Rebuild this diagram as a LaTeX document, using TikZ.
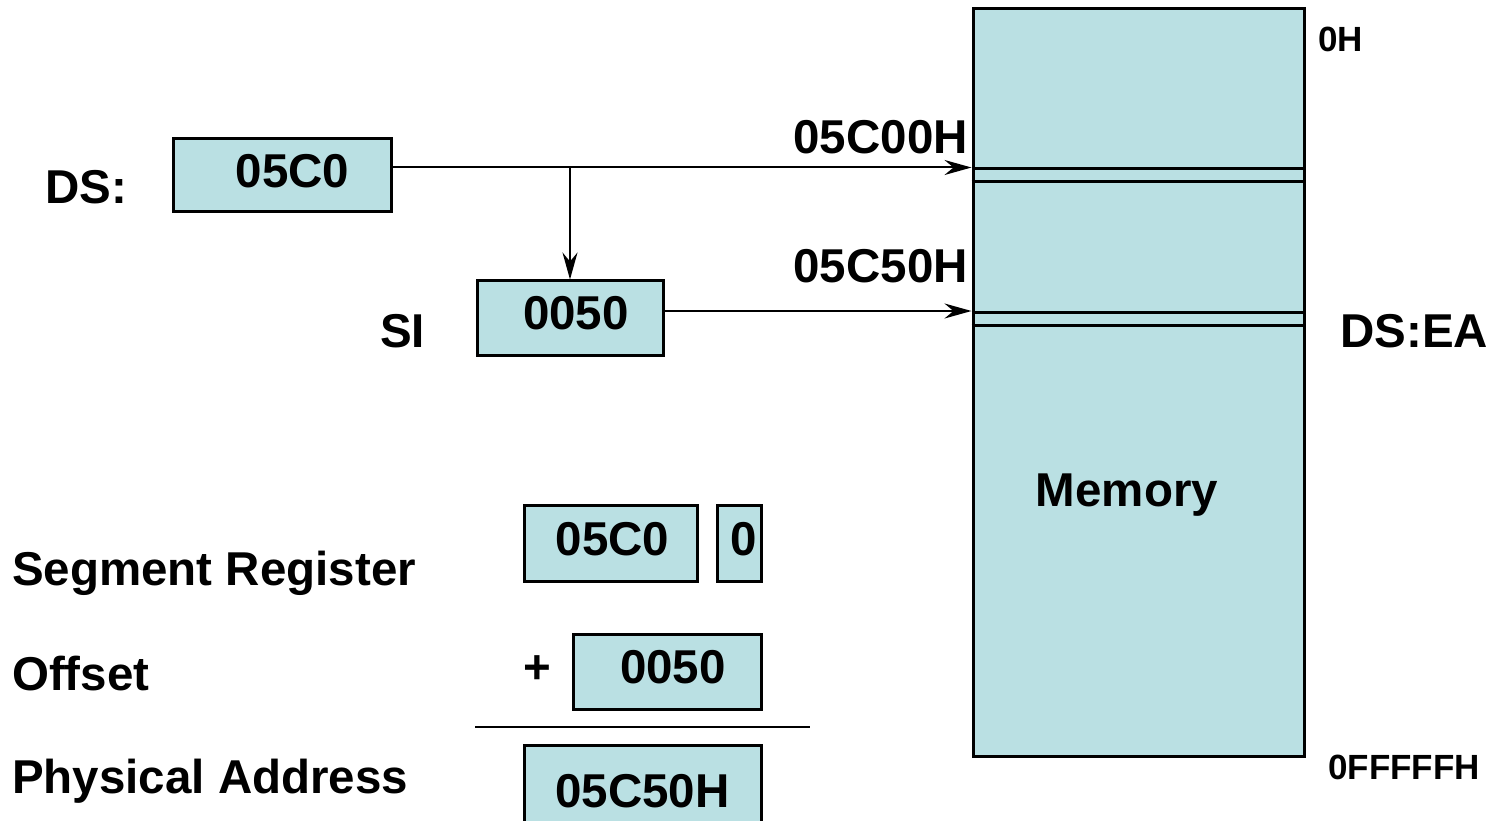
\documentclass[tikz,border=0pt]{standalone}
\usepackage{fontspec}
\setmainfont{Liberation Sans}
\usetikzlibrary{arrows.meta}
\definecolor{memfill}{RGB}{186,224,227}
\begin{document}
\begin{tikzpicture}[x=1pt,y=-1pt,
  big/.style={font=\bfseries\fontsize{47.5}{52}\selectfont, inner sep=0pt},
  small/.style={font=\bfseries\fontsize{35}{38}\selectfont, inner sep=0pt},
  reg/.style={draw, line width=3pt, fill=memfill, inner sep=0pt,
    font=\bfseries\fontsize{47.5}{52}\selectfont, text height=34pt, text depth=10pt},
  conn/.style={line width=2pt, -{Stealth[length=27pt,width=15pt,inset=9pt]}},
  rule/.style={line width=2pt}]
\useasboundingbox (0,0) rectangle (1492,821);
\clip (0,0) rectangle (1492,821);

% memory
\node[draw, line width=3pt, fill=memfill, minimum width=331pt, minimum height=747pt, inner sep=0pt] (mem) at (1138.5,382.5) {};
\coordinate (b1) at (1000,169);
\coordinate (b2) at (1000,182);
\coordinate (b3) at (1000,312);
\coordinate (b4) at (1000,325);
\draw[line width=3pt] (mem.west |- b1) -- (mem.east |- b1);
\draw[line width=3pt] (mem.west |- b2) -- (mem.east |- b2);
\draw[line width=3pt] (mem.west |- b3) -- (mem.east |- b3);
\draw[line width=3pt] (mem.west |- b4) -- (mem.east |- b4);
\node[big, anchor=base] (memlbl) at (1127,506) {Memory};
\node[small, anchor=base west] (top) at (1318,52) {0H};
\node[small, anchor=base west] (bot) at (1328,779) {0FFFFFH};
\node[big, anchor=base west] (dsea) at (1340,347) {DS:EA};

% registers
\node[reg, minimum width=218pt, minimum height=73pt] (ds) at (282.5,175.5) {\hspace*{20pt}05C0};
\node[big, anchor=base west] (dslbl) at (45,204) {DS:};
\node[reg, minimum width=186pt, minimum height=74pt] (si) at (570,318) {\hspace*{12pt}0050};
\node[big, anchor=base west] (silbl) at (380,347) {SI};
\node[big, anchor=base east] (a1) at (968,154) {05C00H};
\node[big, anchor=base east] (a2) at (968,283) {05C50H};

\coordinate (dsout) at ([yshift=8pt]ds.east);
\coordinate (memin1) at (mem.west |- dsout);
\coordinate (br) at (dsout -| si.north);
\coordinate (siout) at ([yshift=7pt]si.east);
\coordinate (memin2) at (mem.west |- siout);
\draw[conn] (dsout) -- (memin1);
\draw[conn] (br) -- (si.north);
\draw[conn] (siout) -- (memin2);

% calculation
\node[big, anchor=base west] (l1) at (12,585) {Segment Register};
\node[big, anchor=base west] (l2) at (12,690) {Offset};
\node[big, anchor=base west] (l3) at (12,793) {Physical Address};

\node[reg, minimum width=173pt, minimum height=76pt] (seg) at (610.5,543) {\hspace*{4pt}05C0};
\node[reg, minimum width=44pt, minimum height=76pt] (zero) at (739,543) {\hspace*{10pt}0};
\node[big] (plus) at (537,670) {+};
\node[reg, minimum width=188pt, minimum height=75pt] (off) at (667,671.5) {\hspace*{12pt}0050};
\coordinate (r1) at (475,727);
\coordinate (r2) at (810,727);
\draw[rule] (r1) -- (r2);
\node[reg, minimum width=237pt, minimum height=100pt] (phys) at (642.5,795) {05C50H};
\end{tikzpicture}
\end{document}
